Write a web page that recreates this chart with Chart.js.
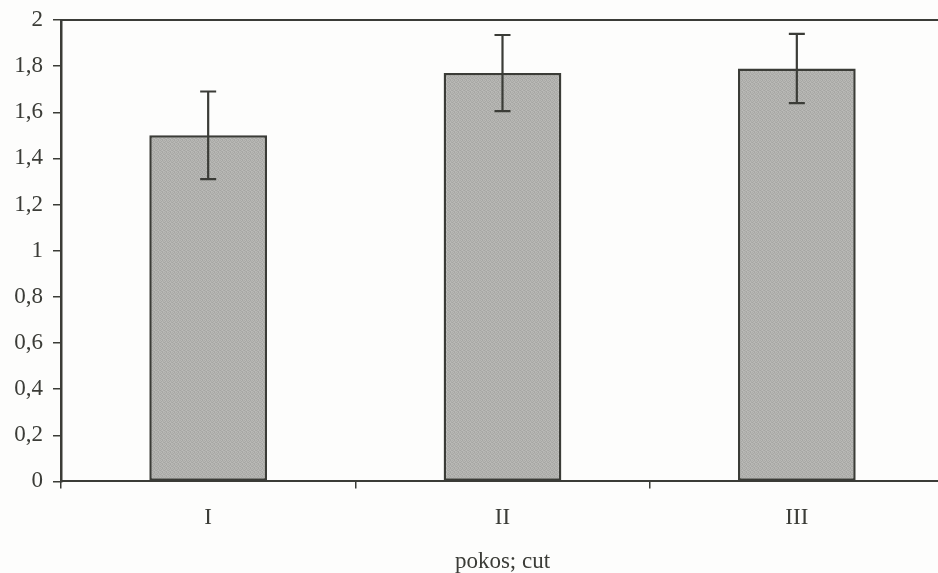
<!DOCTYPE html>
<html>
<head>
<meta charset="utf-8">
<script src="https://cdn.jsdelivr.net/npm/chart.js@4/dist/chart.umd.min.js"></script>
<style>
  html, body { margin: 0; padding: 0; background: #fdfdfc; overflow: hidden; }
  #wrap { position: absolute; left: 0; top: 0; width: 946px; height: 573px; }
</style>
</head>
<body>
<div id="wrap"><canvas id="c" width="946" height="573"></canvas></div>
<script>
// Cuts (pokos) and their means with error bar half-widths
const categories = ['I', 'II', 'III'];
const means = [1.50, 1.77, 1.79];
const errors = [0.19, 0.165, 0.15];
const yTicks = [0, 0.2, 0.4, 0.6, 0.8, 1, 1.2, 1.4, 1.6, 1.8, 2];
const xTitle = 'pokos; cut';

const ink = '#3b3c37';
const serif = '"Liberation Serif", "Times New Roman", serif';

// Stippled grey fill for the bars
function stipple() {
  const p = document.createElement('canvas');
  p.width = 4; p.height = 4;
  const g = p.getContext('2d');
  const shades = [
    [172, 186, 166, 182],
    [184, 168, 180, 174],
    [166, 180, 188, 170],
    [182, 172, 168, 186]
  ];
  for (let y = 0; y < 4; y++) for (let x = 0; x < 4; x++) {
    const s = shades[y][x];
    g.fillStyle = `rgb(${s},${s},${s - 3})`;
    g.fillRect(x, y, 1, 1);
  }
  return g.createPattern(p, 'repeat');
}

const errorBars = {
  id: 'errorBars',
  afterDatasetsDraw(chart) {
    const ctx = chart.ctx;
    const meta = chart.getDatasetMeta(0);
    const y = chart.scales.y;
    ctx.save();
    ctx.strokeStyle = ink;
    ctx.lineWidth = 2.2;
    meta.data.forEach((bar, i) => {
      const x = bar.x;
      const hi = y.getPixelForValue(means[i] + errors[i]);
      const lo = y.getPixelForValue(means[i] - errors[i]);
      ctx.beginPath();
      ctx.moveTo(x, hi); ctx.lineTo(x, lo);
      ctx.moveTo(x - 8, hi); ctx.lineTo(x + 8, hi);
      ctx.moveTo(x - 8, lo); ctx.lineTo(x + 8, lo);
      ctx.stroke();
    });
    ctx.restore();
  }
};

const frame = {
  id: 'frame',
  afterDraw(chart) {
    const a = chart.chartArea;
    const ctx = chart.ctx;
    ctx.save();
    ctx.strokeStyle = ink;
    ctx.lineWidth = 2;
    ctx.beginPath();
    ctx.moveTo(a.left, a.top);
    ctx.lineTo(a.right, a.top);
    ctx.stroke();
    ctx.restore();
  }
};

new Chart(document.getElementById('c'), {
  type: 'bar',
  data: {
    labels: categories,
    datasets: [{
      data: means,
      backgroundColor: stipple(),
      borderColor: ink,
      borderWidth: 2.5,
      borderSkipped: false,
      barPercentage: 0.4,
      categoryPercentage: 1
    }]
  },
  options: {
    responsive: false,
    animation: false,
    devicePixelRatio: 1,
    layout: { padding: { top: 20, right: 2, left: 0, bottom: 0 } },
    plugins: { legend: { display: false }, tooltip: { enabled: false } },
    scales: {
      x: {
        grid: {
          offset: true,
          drawOnChartArea: false,
          drawTicks: true,
          tickLength: 7,
          color: ink,
          lineWidth: 1.5
        },
        border: { color: ink, width: 2 },
        ticks: {
          color: ink,
          padding: 16,
          font: { family: serif, size: 23 }
        },
        title: {
          display: true,
          text: xTitle,
          color: ink,
          padding: { top: 2, bottom: 0 },
          font: { family: serif, size: 23, lineHeight: 1 }
        }
      },
      y: {
        min: 0,
        max: 2,
        afterBuildTicks(scale) { scale.ticks = yTicks.map(v => ({ value: v })); },
        afterFit(scale) {
          scale.width = 61;
          scale.paddingTop = 0;
          scale.paddingBottom = 0;
        },
        grid: {
          drawOnChartArea: false,
          drawTicks: true,
          tickLength: 8,
          color: ink,
          lineWidth: 1.5
        },
        border: { color: ink, width: 2.5 },
        ticks: {
          color: ink,
          padding: 10,
          font: { family: serif, size: 23 },
          callback: v => String(Math.round(v * 10) / 10).replace('.', ',')
        }
      }
    }
  },
  plugins: [errorBars, frame]
});
</script>
</body>
</html>
